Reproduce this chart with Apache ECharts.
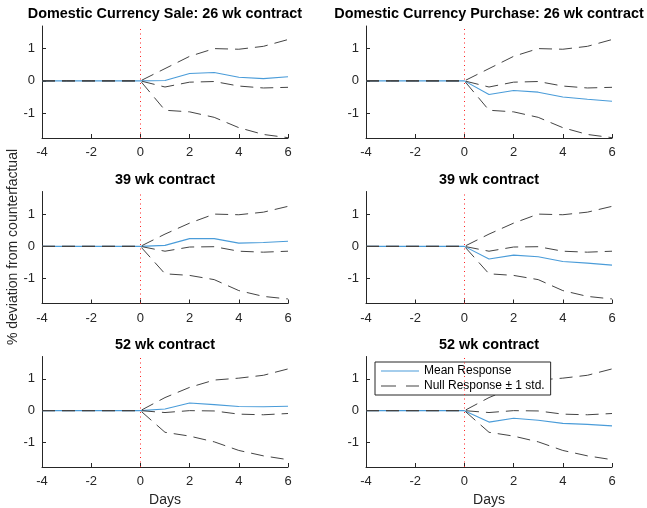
<!DOCTYPE html>
<html>
<head>
<meta charset="utf-8">
<script src="https://cdn.jsdelivr.net/npm/echarts@6/dist/echarts.min.js"></script>
<style>
  html, body { margin: 0; padding: 0; background: #fff; }
  #chart { width: 647px; height: 508px; }
</style>
</head>
<body>
<div id="chart"></div>
<script>
// Days relative to the event (x axis)
const days = [-4, -3, -2, -1, 0, 1, 2, 3, 4, 5, 6];
const yTicks = [-1, 0, 1];

// Null response and +/- 1 std bands, per contract length
const nullUpper26 = [0, 0, 0, 0, 0, 0.38, 0.76, 1.00, 0.98, 1.07, 1.28];
const nullMid26   = [0, 0, 0, 0, 0, -0.19, -0.04, -0.02, -0.16, -0.22, -0.20];
const nullLower26 = [0, 0, 0, 0, 0, -0.91, -0.96, -1.13, -1.45, -1.66, -1.76];

const nullUpper39 = [0, 0, 0, 0, 0, 0.38, 0.72, 1.00, 0.98, 1.06, 1.24];
const nullMid39   = [0, 0, 0, 0, 0, -0.15, -0.02, -0.01, -0.15, -0.18, -0.15];
const nullLower39 = [0, 0, 0, 0, 0, -0.85, -0.90, -1.03, -1.37, -1.55, -1.63];

const nullUpper52 = [0, 0, 0, 0, 0, 0.41, 0.73, 0.96, 1.02, 1.11, 1.31];
const nullMid52   = [0, 0, 0, 0, 0, -0.06, 0.00, -0.01, -0.11, -0.13, -0.09];
const nullLower52 = [0, 0, 0, 0, 0, -0.68, -0.80, -0.98, -1.25, -1.42, -1.54];

// Mean responses
const saleMean26     = [0, 0, 0, 0, 0, 0.01, 0.23, 0.26, 0.11, 0.07, 0.13];
const purchaseMean26 = [0, 0, 0, 0, 0, -0.42, -0.30, -0.35, -0.50, -0.57, -0.63];
const saleMean39     = [0, 0, 0, 0, 0, 0.03, 0.24, 0.24, 0.10, 0.12, 0.16];
const purchaseMean39 = [0, 0, 0, 0, 0, -0.39, -0.27, -0.32, -0.47, -0.52, -0.58];
const saleMean52     = [0, 0, 0, 0, 0, 0.05, 0.24, 0.19, 0.13, 0.12, 0.14];
const purchaseMean52 = [0, 0, 0, 0, 0, -0.36, -0.24, -0.30, -0.40, -0.43, -0.48];

const panelTitles = [
  'Domestic Currency Sale: 26 wk contract',
  'Domestic Currency Purchase: 26 wk contract',
  '39 wk contract', '39 wk contract',
  '52 wk contract', '52 wk contract'
];
const meanName = 'Mean Response';
const nullName = 'Null Response \u00B1 1 std.';
const xName = 'Days';
const yName = '% deviation from counterfactual';

const panels = [
  { mean: saleMean26,     up: nullUpper26, mid: nullMid26, lo: nullLower26 },
  { mean: purchaseMean26, up: nullUpper26, mid: nullMid26, lo: nullLower26 },
  { mean: saleMean39,     up: nullUpper39, mid: nullMid39, lo: nullLower39 },
  { mean: purchaseMean39, up: nullUpper39, mid: nullMid39, lo: nullLower39 },
  { mean: saleMean52,     up: nullUpper52, mid: nullMid52, lo: nullLower52 },
  { mean: purchaseMean52, up: nullUpper52, mid: nullMid52, lo: nullLower52 }
];

const FONT = '"Liberation Sans", Arial, Helvetica, sans-serif';
const AXIS = '#262626';
const MEAN_COLOR = '#4a9cd9';
const NULL_COLOR = '#444444';
const colLeft = [42, 366];
const rowTop = [26, 191.5, 356.5];
const gridW = 246, gridH = 112;
const titleY = [14, 180, 345];

const pairs = ys => days.map((d, i) => [d, ys[i]]);

const grids = [], xAxes = [], yAxes = [], series = [], graphics = [];
panels.forEach((p, i) => {
  const col = i % 2, row = Math.floor(i / 2);
  grids.push({ left: colLeft[col], top: rowTop[row], width: gridW, height: gridH });
  xAxes.push({
    type: 'value', gridIndex: i, min: -4, max: 6, interval: 2,
    axisLine: { onZero: false, lineStyle: { color: AXIS, width: 1 } },
    axisTick: { inside: true, length: 4, lineStyle: { color: AXIS } },
    axisLabel: { color: AXIS, fontSize: 13, fontFamily: FONT, margin: 8 },
    splitLine: { show: false },
    name: row === 2 ? xName : '',
    nameLocation: 'middle', nameGap: 26,
    nameTextStyle: { color: AXIS, fontSize: 14, fontFamily: FONT }
  });
  yAxes.push({
    type: 'value', gridIndex: i, min: -1.77, max: 1.7,
    axisLine: { show: true, onZero: false, lineStyle: { color: AXIS, width: 1 } },
    axisTick: { inside: true, length: 4, customValues: yTicks, lineStyle: { color: AXIS } },
    axisLabel: { color: AXIS, fontSize: 13, fontFamily: FONT, margin: 7, customValues: yTicks },
    splitLine: { show: false }
  });
  series.push({
    type: 'line', name: meanName, xAxisIndex: i, yAxisIndex: i,
    data: pairs(p.mean), symbol: 'none', z: 2,
    lineStyle: { color: MEAN_COLOR, width: 1.1 }, itemStyle: { color: MEAN_COLOR },
    markLine: {
      silent: true, symbol: ['none', 'none'], label: { show: false },
      lineStyle: { color: '#ff2020', type: [1, 3.5], width: 1 },
      data: [{ xAxis: 0 }], animation: false
    }
  });
  [p.up, p.mid, p.lo].forEach(band => {
    series.push({
      type: 'line', name: nullName, xAxisIndex: i, yAxisIndex: i,
      data: pairs(band), symbol: 'none', z: 3,
      lineStyle: { color: NULL_COLOR, width: 1, type: [13, 7] },
      itemStyle: { color: NULL_COLOR }
    });
  });
  graphics.push({
    type: 'text',
    style: {
      text: panelTitles[i], x: colLeft[col] + gridW / 2, y: titleY[row],
      textAlign: 'center', textVerticalAlign: 'middle',
      font: 'bold 14.4px ' + FONT, fill: '#000'
    }
  });
});

graphics.push({
  type: 'text', x: 13, y: 247, rotation: Math.PI / 2,
  style: {
    text: yName, x: 0, y: 0, textAlign: 'center', textVerticalAlign: 'middle',
    font: '14px ' + FONT, fill: AXIS
  }
});

const chart = echarts.init(document.getElementById('chart'), null, { renderer: 'canvas' });
chart.setOption({
  animation: false,
  backgroundColor: '#fff',
  grid: grids,
  xAxis: xAxes,
  yAxis: yAxes,
  series: series,
  graphic: graphics,
  legend: {
    data: [
      { name: meanName, icon: 'path://M0,0H38V1H0Z', itemStyle: { color: MEAN_COLOR } },
      { name: nullName, icon: 'path://M0,0H15V1H0Z M25,0H38V1H25Z', itemStyle: { color: NULL_COLOR } }
    ],
    orient: 'vertical', left: 375, top: 362,
    itemWidth: 38, itemHeight: 12, itemGap: 3,
    padding: [3, 6, 3, 6],
    backgroundColor: '#fff', borderColor: AXIS, borderWidth: 1, borderRadius: 0,
    textStyle: { color: '#000', fontSize: 12, fontFamily: FONT },
    selectedMode: false
  }
});
</script>
</body>
</html>
